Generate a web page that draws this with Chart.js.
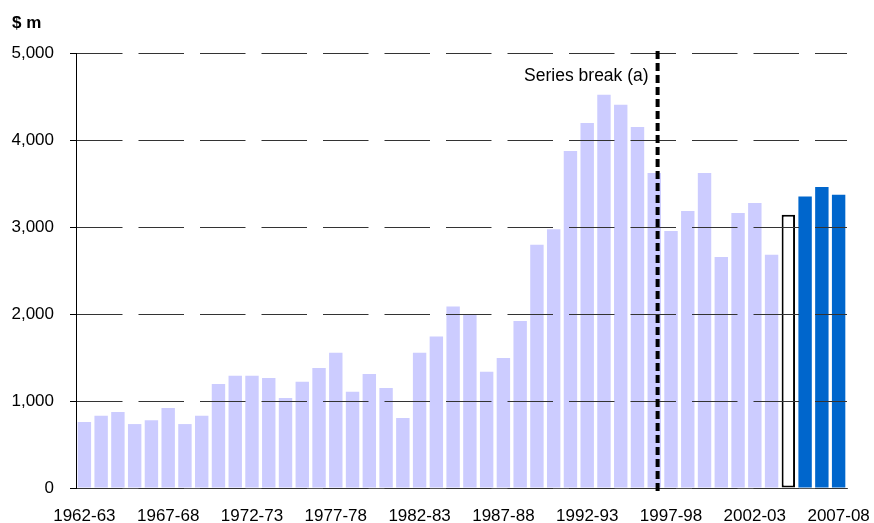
<!DOCTYPE html>
<html lang="en">
<head>
<meta charset="UTF-8">
<title>$ m by financial year</title>
<script src="https://cdn.jsdelivr.net/npm/chart.js"></script>
<style>
  body { margin: 0; background: #fff; }
</style>
</head>
<body>
<canvas id="chart" width="874" height="523"></canvas>
<script>
const years = [
  "1962-63", "1963-64", "1964-65", "1965-66", "1966-67", "1967-68", "1968-69", "1969-70",
  "1970-71", "1971-72", "1972-73", "1973-74", "1974-75", "1975-76", "1976-77", "1977-78",
  "1978-79", "1979-80", "1980-81", "1981-82", "1982-83", "1983-84", "1984-85", "1985-86",
  "1986-87", "1987-88", "1988-89", "1989-90", "1990-91", "1991-92", "1992-93", "1993-94",
  "1994-95", "1995-96", "1996-97", "1997-98", "1998-99", "1999-00", "2000-01", "2001-02",
  "2002-03", "2003-04", "2004-05", "2005-06", "2006-07", "2007-08"
];
// outcomes, 1962-63 to 2003-04
const actuals = [
  760, 830, 875, 735, 780, 920, 735, 830,
  1195, 1290, 1290, 1265, 1035, 1220, 1380, 1555,
  1105, 1310, 1150, 805, 1555, 1740, 2085, 1995,
  1335, 1495, 1920, 2795, 2975, 3875, 4195, 4520,
  4405, 4150, 3620, 2955, 3185, 3620, 2655, 3160,
  3275, 2680
];
const estimate = [3140];            // 2004-05
const projections = [3350, 3460, 3370]; // 2005-06 to 2007-08
const yTicks = [0, 1000, 2000, 3000, 4000, 5000];
const breakAt = 34.2; // series break, just after the middle of 1996-97
const breakLabel = "Series break (a)";
const unitLabel = "$ m";

const values = actuals.concat(estimate, projections);
const fills = values.map((v, i) => i < actuals.length ? "#ccccff" : (i < actuals.length + estimate.length ? "#ffffff" : "#0066cc"));
const borders = values.map((v, i) => (i >= actuals.length && i < actuals.length + estimate.length) ? 2 : 0);

const font = { family: "'Liberation Sans', Arial, sans-serif", size: 17 };

const extras = {
  id: "extras",
  afterDraw(chart) {
    const ctx = chart.ctx;
    const x = chart.scales.x;
    const area = chart.chartArea;
    const px = x.getPixelForValue(breakAt);
    ctx.save();
    ctx.strokeStyle = "#000";
    ctx.lineWidth = 4;
    ctx.setLineDash([8, 4]);
    ctx.beginPath();
    ctx.moveTo(px, area.top - 2);
    ctx.lineTo(px, area.bottom + 3);
    ctx.stroke();
    ctx.setLineDash([]);

    ctx.fillStyle = "#000";
    ctx.font = "17.5px 'Liberation Sans', Arial, sans-serif";
    ctx.textAlign = "right";
    ctx.textBaseline = "middle";
    ctx.fillText(breakLabel, px - 9, area.top + 23);

    ctx.font = "bold 17px 'Liberation Sans', Arial, sans-serif";
    ctx.textAlign = "left";
    ctx.fillText(unitLabel, 12, 23);
    ctx.restore();
  }
};

new Chart(document.getElementById("chart").getContext("2d"), {
  type: "bar",
  data: {
    labels: years,
    datasets: [{
      data: values,
      backgroundColor: fills,
      borderColor: "#000",
      borderWidth: borders,
      borderSkipped: false,
      barPercentage: 0.8,
      categoryPercentage: 1.0
    }]
  },
  options: {
    responsive: false,
    animation: false,
    layout: { padding: { top: 53, right: 27, left: 0, bottom: 0 } },
    plugins: { legend: { display: false }, tooltip: { enabled: false } },
    scales: {
      x: {
        afterFit(s) { s.height = 35; s.paddingLeft = 0; s.paddingRight = 0; },
        grid: { display: false, drawTicks: false },
        border: { display: true, color: "#555", width: 1, z: 1 },
        ticks: {
          autoSkip: false,
          maxRotation: 0,
          padding: 18,
          color: "#000",
          font: font,
          callback: (v, i) => i % 5 === 0 ? years[i] : ""
        }
      },
      y: {
        min: yTicks[0],
        max: yTicks[yTicks.length - 1],
        afterFit(s) { s.width = 76; },
        afterBuildTicks(s) { s.ticks = yTicks.map(v => ({ value: v })); },
        grid: {
          z: 1,
          color: "#333",
          lineWidth: 1,
          tickLength: 6,
          tickColor: "#000",
          tickBorderDash: []
        },
        border: { display: true, color: "#000", width: 1, dash: [45.5, 16], z: 1 },
        ticks: {
          padding: 16,
          color: "#000",
          font: font,
          callback: v => v.toLocaleString("en-US")
        }
      }
    }
  },
  plugins: [extras]
});
</script>
</body>
</html>
